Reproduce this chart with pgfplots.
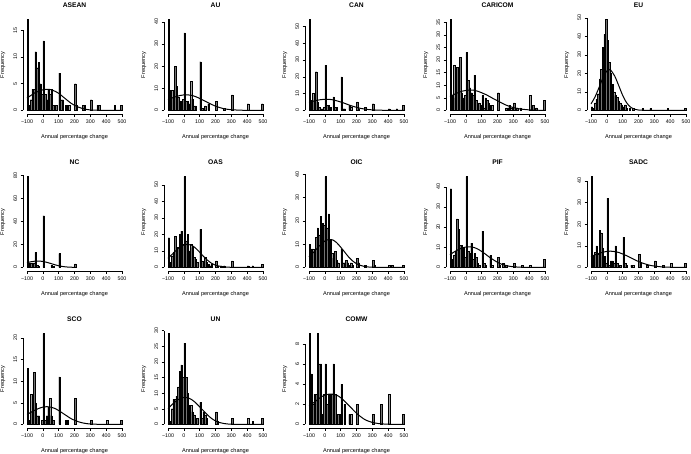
\documentclass[border=0pt]{standalone}
\usepackage{fontspec}
\setmainfont{Liberation Sans}
\usepackage{pgfplots}
\pgfplotsset{compat=1.18}
\pgfplotsset{
  rp/.style={
    scale only axis, width=102.6pt, height=98pt, xmin=-124, xmax=524,
    clip=false,
    axis x line*=bottom, axis y line*=left, axis line style={draw=none},
    tick align=outside, major tick length=2.5pt,
    tick style={black, line width=0.4pt},
    xtick={-100,0,...,500}, xticklabels={−100,0,100,200,300,400,500},
    tick label style={font=\fontsize{5.3}{6}\selectfont},
    yticklabel style={rotate=90, anchor=south},
    /pgf/number format/assume math mode=true,
    xlabel={Annual percentage change}, ylabel={Frequency},
    every axis y label/.style={at={(axis description cs:-0.2,0.5)}, rotate=90, anchor=center, font=\fontsize{5.6}{6.5}\selectfont},
    every axis x label/.style={at={(axis description cs:0.5,-0.235)}, anchor=center, font=\fontsize{5.6}{6.5}\selectfont},
    every axis title/.style={font=\bfseries\fontsize{6.7}{8}\selectfont, at={(axis description cs:0.5,1.11)}, anchor=center},
    anchor=south west,
  },
  barst/.style={ybar, bar width=9, fill=black!55, draw=black, line width=0.3pt},
  curvst/.style={black, line width=1pt, smooth, no markers},
}
\newcommand{\rlines}[2]{\draw[line width=0.4pt] (axis cs:-100,#1) -- (axis cs:500,#1);
  \draw[line width=0.4pt] (axis cs:-124,0) -- (axis cs:-124,#2);}
\begin{document}
\begin{tikzpicture}
\useasboundingbox (0,0) rectangle (691pt,-453pt);
% ---------------- Row 1
\begin{axis}[rp, at={(23.2pt,-114pt)}, title={ASEAN}, ymin=-0.68, ymax=17.68, ytick={0,5,10,15}]
\addplot[barst] coordinates {(-95,17) (-85,1) (-75,2) (-65,4) (-55,4) (-45,11) (-35,8) (-25,9) (-15,5) (-5,3) (5,13) (15,3) (25,2) (35,4) (45,3) (55,4) (65,1) (75,1) (85,1) (105,7) (115,2) (125,2) (145,1) (155,1) (165,1) (205,5) (215,1) (255,1) (265,1) (305,2) (345,1) (355,1) (455,1) (495,1)};
\addplot[curvst] coordinates {(-100,2.3) (-75,2.8) (-50,3.3) (-25,3.6) (0,3.85) (25,3.95) (50,3.9) (75,3.6) (100,3.2) (125,2.6) (150,2.0) (175,1.4) (200,0.95) (225,0.6) (250,0.35) (275,0.18) (300,0.08) (350,0.02) (400,0) (500,0)};
\rlines{-0.68}{15}
\end{axis}
\begin{axis}[rp, at={(164.2pt,-114pt)}, title={AU}, ymin=-1.64, ymax=42.64, ytick={0,10,20,30,40}]
\addplot[barst] coordinates {(-95,41) (-85,9) (-75,9) (-65,6) (-55,20) (-45,11) (-35,6) (-25,4) (-15,4) (-5,5) (5,35) (15,4) (25,4) (35,3) (45,13) (55,5) (65,2) (75,2) (105,22) (115,1) (125,1) (135,2) (155,3) (205,4) (255,1) (305,7) (405,3) (495,3)};
\addplot[curvst] coordinates {(-100,4.8) (-75,5.6) (-50,6.2) (-25,6.7) (0,7.0) (25,7.0) (50,6.8) (75,6.2) (100,5.4) (125,4.5) (150,3.6) (175,2.7) (200,1.9) (225,1.3) (250,0.8) (275,0.5) (300,0.3) (350,0.1) (400,0.02) (500,0)};
\rlines{-1.64}{40}
\end{axis}
\begin{axis}[rp, at={(305.2pt,-114pt)}, title={CAN}, ymin=-2.16, ymax=56.16, ytick={0,10,20,30,40,50}]
\addplot[barst] coordinates {(-95,54) (-85,6) (-75,10) (-65,6) (-55,23) (-45,5) (-35,2) (-25,1) (-15,1) (-5,2) (5,27) (15,3) (25,3) (35,2) (55,8) (65,2) (75,2) (105,20) (115,1) (125,1) (155,3) (165,2) (205,5) (215,1) (255,2) (305,4) (405,1) (455,1) (495,3)};
\addplot[curvst] coordinates {(-100,4.7) (-75,5.4) (-50,6.0) (-25,6.4) (0,6.6) (25,6.6) (50,6.3) (75,5.7) (100,5.0) (125,4.2) (150,3.3) (175,2.5) (200,1.8) (225,1.2) (250,0.8) (275,0.5) (300,0.3) (350,0.1) (400,0.02) (500,0)};
\rlines{-2.16}{50}
\end{axis}
\begin{axis}[rp, at={(446.2pt,-114pt)}, title={CARICOM}, ymin=-1.44, ymax=37.44, ytick={0,5,...,35}]
\addplot[barst] coordinates {(-95,36) (-85,6) (-75,18) (-65,5) (-55,17) (-45,5) (-35,21) (-25,7) (-15,5) (-5,6) (5,23) (15,12) (25,9) (35,7) (45,6) (55,14) (65,4) (75,2) (85,3) (95,2) (105,6) (115,1) (125,5) (135,4) (145,3) (155,2) (165,2) (205,7) (255,1) (265,1) (275,2) (285,1) (305,3) (325,1) (345,1) (405,6) (425,2) (445,1) (495,4)};
\addplot[curvst] coordinates {(-100,5.5) (-75,6.3) (-50,7.0) (-25,7.6) (0,7.9) (25,8.05) (50,8.0) (75,7.6) (100,7.0) (125,6.3) (150,5.5) (175,4.6) (200,3.8) (225,3.0) (250,2.2) (275,1.6) (300,1.1) (350,0.5) (400,0.2) (450,0.06) (500,0.02)};
\rlines{-1.44}{35}
\end{axis}
\begin{axis}[rp, at={(587.2pt,-114pt)}, title={EU}, ymin=-1.96, ymax=50.96, ytick={0,10,20,30,40,50}]
\addplot[barst] coordinates {(-95,2) (-85,1) (-75,4) (-65,6) (-55,9) (-45,17) (-35,22) (-25,34) (-15,41) (-5,49) (5,38) (15,26) (25,20) (35,14) (45,10) (55,8) (65,7) (75,5) (85,4) (95,3) (105,2) (115,3) (125,1) (145,1) (165,1) (225,1) (275,1) (385,1) (495,1)};
\addplot[curvst] coordinates {(-100,3.5) (-75,7.2) (-50,12.2) (-25,17.4) (0,21.3) (15,22) (25,21.7) (50,18.5) (75,13.4) (100,8.1) (125,4.1) (150,1.75) (175,0.6) (200,0.19) (250,0.01) (300,0) (500,0)};
\rlines{-1.96}{50}
\end{axis}
% ---------------- Row 2
\begin{axis}[rp, at={(23.2pt,-271pt)}, title={NC}, ymin=-3.16, ymax=82.16, ytick={0,20,40,60,80}]
\addplot[barst] coordinates {(-95,79) (-85,4) (-75,4) (-65,4) (-55,4) (-45,13) (-35,2) (-25,1) (5,45) (55,2) (65,1) (105,12) (205,3)};
\addplot[curvst] coordinates {(-100,4.1) (-75,4.9) (-50,5.4) (-25,5.5) (0,5.2) (25,4.4) (50,3.4) (75,2.3) (100,1.4) (125,0.75) (150,0.35) (175,0.14) (200,0.05)};
\rlines{-3.16}{80}
\end{axis}
\begin{axis}[rp, at={(164.2pt,-271pt)}, title={OAS}, ymin=-2.2, ymax=57.2, ytick={0,10,20,30,40,50}]
\addplot[barst] coordinates {(-95,18) (-85,3) (-75,7) (-65,9) (-55,19) (-45,9) (-35,12) (-25,20) (-15,22) (-5,14) (5,55) (15,16) (25,20) (35,10) (45,14) (55,12) (65,6) (75,5) (85,3) (105,23) (115,4) (125,2) (135,6) (145,3) (155,2) (165,1) (175,2) (205,4) (215,1) (235,1) (255,1) (305,4) (405,1) (435,1) (495,2)};
\addplot[curvst] coordinates {(-100,5.5) (-75,7.8) (-50,10.2) (-25,12.3) (0,13.6) (25,14.0) (50,13.4) (75,11.6) (100,9.2) (125,6.6) (150,4.3) (175,2.5) (200,1.3) (250,0.3) (300,0.05) (350,0) (500,0)};
\rlines{-2.2}{50}
\end{axis}
\begin{axis}[rp, at={(305.2pt,-271pt)}, title={OIC}, ymin=-1.56, ymax=40.56, ytick={0,10,20,30,40}]
\addplot[barst] coordinates {(-95,10) (-85,8) (-75,8) (-65,6) (-55,13) (-45,17) (-35,14) (-25,22) (-15,19) (-5,18) (5,39) (15,17) (25,23) (35,12) (45,6) (55,4) (65,7) (75,3) (85,2) (105,8) (115,2) (125,2) (135,3) (145,2) (155,1) (165,2) (175,1) (205,4) (215,2) (255,1) (305,3) (315,1) (405,1) (425,1) (495,1)};
\addplot[curvst] coordinates {(-100,4.5) (-75,6.2) (-50,8.1) (-25,9.9) (0,11.3) (25,12.0) (50,11.8) (75,10.6) (100,8.7) (125,6.6) (150,4.5) (175,2.8) (200,1.6) (225,0.85) (250,0.4) (275,0.17) (300,0.07) (350,0.01) (400,0) (500,0)};
\rlines{-1.56}{40}
\end{axis}
\begin{axis}[rp, at={(446.2pt,-271pt)}, title={PIF}, ymin=-1.8, ymax=46.8, ytick={0,10,20,30,40}]
\addplot[barst] coordinates {(-95,39) (-85,4) (-75,6) (-65,8) (-55,24) (-45,19) (-35,11) (-25,11) (-15,10) (-5,5) (5,45) (15,8) (25,7) (35,12) (45,4) (55,7) (65,5) (75,2) (85,1) (105,18) (115,2) (125,1) (155,6) (165,1) (205,5) (215,1) (235,2) (255,1) (305,2) (355,1) (405,1) (495,4)};
\addplot[curvst] coordinates {(-100,6.3) (-75,7.6) (-50,8.7) (-25,9.6) (0,10.1) (25,10.2) (50,9.9) (75,9.1) (100,7.9) (125,6.5) (150,5.0) (175,3.7) (200,2.5) (225,1.6) (250,1.0) (275,0.55) (300,0.3) (350,0.07) (400,0.01) (500,0)};
\rlines{-1.8}{40}
\end{axis}
\begin{axis}[rp, at={(587.2pt,-271pt)}, title={SADC}, ymin=-1.68, ymax=43.68, ytick={0,10,20,30,40}]
\addplot[barst] coordinates {(-95,42) (-85,5) (-75,7) (-65,10) (-55,6) (-45,17) (-35,16) (-25,9) (-15,5) (-5,2) (5,32) (15,1) (25,3) (35,3) (45,2) (55,10) (65,2) (75,1) (85,1) (105,14) (115,2) (125,1) (155,1) (165,1) (205,6) (215,2) (255,1) (305,3) (355,1) (405,2) (495,2)};
\addplot[curvst] coordinates {(-100,5.0) (-75,5.8) (-50,6.5) (-25,7.0) (0,7.4) (25,7.5) (50,7.3) (75,6.9) (100,6.2) (125,5.4) (150,4.5) (175,3.6) (200,2.7) (225,2.0) (250,1.4) (275,0.9) (300,0.6) (350,0.2) (400,0.06) (450,0.02) (500,0)};
\rlines{-1.68}{40}
\end{axis}
% ---------------- Row 3
\begin{axis}[rp, at={(23.2pt,-428pt)}, title={SCO}, ymin=-0.84, ymax=21.84, ytick={0,5,10,15,20}]
\addplot[barst] coordinates {(-95,13) (-85,1) (-75,7) (-65,3) (-55,12) (-45,5) (-35,2) (-25,2) (-5,1) (5,21) (15,1) (25,2) (35,4) (45,6) (55,2) (65,1) (105,11) (145,1) (155,1) (205,6) (305,1) (405,1) (495,1)};
\addplot[curvst] coordinates {(-100,2.3) (-75,2.8) (-50,3.3) (-25,3.7) (0,4.0) (25,4.1) (50,4.0) (75,3.7) (100,3.2) (125,2.6) (150,2.0) (175,1.4) (200,0.95) (225,0.6) (250,0.35) (275,0.18) (300,0.08) (350,0.02) (400,0) (500,0)};
\rlines{-0.84}{20}
\end{axis}
\begin{axis}[rp, at={(164.2pt,-428pt)}, title={UN}, ymin=-1.16, ymax=30.16, ytick={0,5,...,30}]
\addplot[barst] coordinates {(-95,29) (-85,1) (-75,5) (-65,8) (-55,8) (-45,9) (-35,12) (-25,17) (-15,19) (-5,15) (5,26) (15,15) (25,10) (35,6) (45,6) (55,4) (65,3) (75,1) (85,2) (105,7) (115,2) (125,4) (135,3) (145,2) (205,4) (215,1) (305,2) (405,2) (435,1) (495,2)};
\addplot[curvst] coordinates {(-100,5.0) (-75,6.3) (-50,7.4) (-25,8.2) (0,8.6) (25,8.5) (50,7.9) (75,6.9) (100,5.6) (125,4.3) (150,3.0) (175,1.9) (200,1.1) (225,0.6) (250,0.3) (275,0.13) (300,0.05) (350,0.01) (400,0) (500,0)};
\rlines{-1.16}{30}
\end{axis}
\begin{axis}[rp, at={(305.2pt,-428pt)}, title={COMW}, ymin=-0.36, ymax=9.36, ytick={0,2,4,6,8}]
\addplot[barst] coordinates {(-95,9) (-85,5) (-75,2) (-65,3) (-55,3) (-45,9) (-35,6) (-25,6) (-15,1) (-5,3) (5,6) (15,2) (25,3) (35,3) (45,3) (55,6) (65,3) (75,1) (85,1) (95,1) (105,4) (125,2) (155,1) (165,1) (205,2) (305,1) (355,2) (405,3) (495,1)};
\addplot[curvst] coordinates {(-100,1.8) (-75,2.1) (-50,2.4) (-25,2.7) (0,2.9) (25,3.0) (50,3.0) (75,2.9) (100,2.65) (125,2.3) (150,1.9) (175,1.5) (200,1.1) (225,0.78) (250,0.5) (275,0.32) (300,0.19) (350,0.06) (400,0.02) (450,0) (500,0)};
\rlines{-0.36}{8}
\end{axis}
\end{tikzpicture}
\end{document}
